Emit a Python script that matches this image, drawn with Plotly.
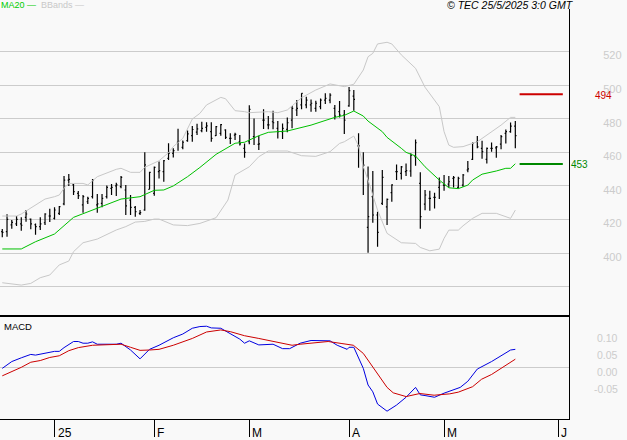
import plotly.graph_objects as go
from plotly.subplots import make_subplots

FONT = "Liberation Sans"
GRID = "#cccccc"
BG = "#f9f9f9"

# daily bars
open_ = [412.8, 412.8, 416.8, 417.4, 417.4, 421.3, 420.3, 416.9, 415.8, 418.1,
         422.1, 420.7, 423.7, 429.3, 443.5, 440.6, 435.6, 428.7, 430.6, 433.6,
         428.7, 429.6, 433.6, 438.6, 440.0, 439.6, 437.6, 431.6, 427.3, 423.7,
         425.7, 438.0, 435.6, 448.5, 448.5, 456.4, 459.4, 466.0, 463.0, 467.0,
         470.0, 472.0, 472.9, 474.9, 472.3, 469.9, 471.3, 473.3, 468.3, 470.3,
         466.3, 462.4, 466.3, 469.3, 464.7, 479.2, 476.3, 478.2, 474.3, 472.3,
         473.7, 479.2, 485.2, 488.2, 488.2, 488.2, 486.2, 487.2, 491.1, 491.1,
         486.2, 484.2, 482.2, 487.6, 493.5, 463.8, 453.4, 415.3, 433.6, 422.7,
         429.6, 427.6, 436.0, 448.5, 447.5, 448.5, 448.9, 457.4, 441.5, 429.2,
         432.6, 433.2, 439.1, 440.5, 441.1, 444.5, 439.1, 440.5, 449.5, 455.8,
         466.3, 462.4, 455.8, 462.4, 462.7, 464.9, 471.3, 472.3, 475.6]
high = [414.4, 423.1, 419.7, 422.1, 421.3, 425.7, 420.7, 417.7, 421.3, 423.7,
        426.5, 427.3, 428.1, 445.9, 447.1, 441.2, 437.0, 434.6, 433.6, 444.1,
        435.2, 435.2, 440.2, 441.2, 441.9, 445.9, 440.6, 434.6, 428.1, 425.7,
        460.0, 448.5, 451.5, 454.5, 455.4, 465.4, 462.4, 474.0, 467.0, 473.0,
        475.6, 477.0, 478.2, 477.9, 477.9, 475.7, 476.9, 473.7, 471.3, 471.7,
        470.3, 465.3, 488.0, 480.2, 469.9, 485.6, 481.6, 484.8, 478.6, 477.2,
        480.8, 487.6, 491.1, 495.1, 493.1, 491.5, 490.7, 492.1, 495.1, 495.1,
        488.2, 490.5, 485.2, 498.9, 497.1, 471.3, 460.0, 451.5, 448.9, 424.7,
        449.5, 432.6, 441.0, 452.8, 451.8, 453.4, 459.4, 467.7, 448.1, 437.6,
        437.2, 436.0, 445.1, 446.5, 445.9, 445.9, 445.5, 447.1, 454.8, 465.9,
        469.7, 466.9, 462.9, 465.9, 463.7, 470.3, 473.6, 477.8, 478.6]
low = [409.4, 409.8, 414.6, 416.2, 413.4, 418.7, 414.2, 411.0, 413.8, 416.8,
       418.5, 420.1, 422.7, 428.5, 440.0, 434.6, 432.2, 424.1, 429.3, 432.6,
       424.1, 427.3, 432.6, 434.6, 434.0, 438.6, 422.7, 422.7, 421.7, 422.7,
       425.3, 438.0, 434.2, 444.5, 442.5, 455.4, 457.0, 461.0, 461.8, 466.3,
       466.3, 470.3, 471.9, 472.3, 466.3, 469.7, 469.9, 467.9, 465.0, 467.3,
       464.0, 456.8, 464.8, 464.4, 461.4, 473.9, 473.7, 473.7, 468.3, 467.9,
       471.9, 474.3, 481.6, 485.6, 486.2, 484.2, 484.2, 485.6, 488.8, 489.2,
       479.6, 480.8, 470.9, 487.2, 484.8, 450.9, 434.6, 400.3, 418.1, 403.8,
       428.6, 416.7, 430.6, 443.5, 443.9, 445.9, 445.5, 452.0, 414.5, 425.6,
       425.3, 426.6, 432.2, 437.2, 439.1, 439.1, 438.5, 439.5, 448.1, 455.4,
       462.4, 456.2, 453.4, 460.4, 456.8, 461.8, 465.3, 471.7, 462.4]
close = [412.4, 420.1, 418.3, 420.1, 416.6, 423.3, 417.4, 415.8, 417.4, 423.3,
         422.1, 425.7, 427.7, 443.5, 443.9, 436.6, 434.2, 433.6, 432.6, 443.5,
         429.3, 432.6, 439.2, 439.2, 440.6, 445.1, 428.1, 427.3, 424.7, 424.1,
         452.5, 448.1, 451.1, 449.1, 455.0, 459.4, 461.0, 466.5, 466.0, 471.0,
         473.6, 474.0, 474.3, 475.7, 468.3, 475.3, 476.5, 468.9, 468.3, 470.7,
         465.0, 460.0, 485.6, 468.9, 465.0, 479.2, 476.3, 477.6, 472.3, 474.3,
         477.6, 486.2, 486.2, 495.1, 491.1, 489.2, 489.2, 491.1, 492.1, 494.1,
         481.6, 482.2, 479.2, 496.7, 491.5, 463.8, 452.4, 421.7, 422.7, 412.4,
         445.1, 432.0, 440.6, 448.5, 451.4, 449.1, 458.4, 465.7, 421.7, 434.6,
         432.6, 433.2, 441.9, 440.5, 442.5, 444.9, 444.5, 446.5, 450.1, 465.3,
         463.3, 460.4, 462.4, 462.4, 463.3, 469.3, 472.3, 475.6, 469.9]
days = list(range(len(close)))

ma20_days = [0, 4, 7, 11, 15, 20, 25, 29, 32, 34, 36, 39, 41.6, 45, 49, 51, 54, 56, 60,
             65, 70, 72, 74, 76, 77, 80, 81, 84, 85, 87, 89, 92, 94, 96, 98, 99, 101,
             104, 106, 107, 108]
ma20 = [402.5, 402.5, 406.8, 411.4, 421.3, 426.7, 432.2, 433.6, 437.4, 437.6, 440.0,
        445.5, 451.0, 458.8, 465.4, 466.0, 469.9, 471.9, 472.7, 476.2, 480.8, 482.0,
        484.6, 481.6, 478.6, 472.3, 468.9, 462.4, 460.0, 457.8, 451.4, 443.5, 438.9,
        438.4, 440.5, 443.5, 447.0, 448.9, 450.5, 450.5, 453.2]

upper_days = [0, 3, 4, 7, 9, 11, 12, 13, 14, 17, 18, 20, 24, 25, 27, 29, 30, 33, 35, 36,
              38, 40, 41.6, 43, 46, 47, 49, 51, 52, 56, 58, 60, 62, 63, 66, 69, 72, 74,
              76, 77, 78, 79, 81, 82, 84, 87, 89, 92, 93, 94, 95, 97, 100, 105, 107, 108]
bb_upper = [422.1, 422.1, 423.3, 428.7, 432.2, 433.6, 434.6, 438.6, 441.5, 441.5, 440.6,
            445.5, 449.9, 450.5, 448.1, 448.1, 451.1, 455.0, 459.8, 463.4, 468.3, 479.8,
            483.2, 488.2, 492.7, 491.9, 484.8, 484.2, 483.6, 484.2, 483.6, 485.2, 490.1,
            492.5, 497.1, 500.7, 499.1, 500.5, 509.0, 516.9, 518.9, 524.5, 525.5, 524.5,
            518.0, 510.0, 498.7, 487.2, 472.3, 464.3, 463.0, 463.4, 466.3, 476.2, 480.8,
            480.8]

lower_days = [0, 4, 6, 8, 10, 12, 14, 15, 17, 20, 24, 26, 28, 30, 32, 33, 36, 39, 41.6,
              45, 47.5, 49, 52, 54, 56, 60, 63, 66, 69, 71, 72, 74, 75, 76, 77, 79, 81,
              83, 84, 87, 88, 90, 92, 93, 94, 96, 97, 99, 101, 104, 107, 108]
bb_lower = [382.4, 381.0, 382.0, 385.4, 387.0, 393.0, 395.3, 400.9, 406.2, 408.4, 413.8,
            415.8, 418.5, 418.9, 420.3, 420.3, 416.8, 416.4, 417.7, 421.1, 431.6, 446.5,
            451.4, 457.4, 460.8, 460.8, 458.0, 457.6, 460.4, 465.3, 466.3, 469.7, 463.8,
            451.4, 443.5, 425.6, 411.8, 407.8, 406.2, 405.8, 403.4, 401.4, 402.4, 408.8,
            413.7, 413.7, 416.3, 420.7, 423.7, 423.7, 420.7, 425.6]

target_days = [108.9, 118.0]
target_high = 494.6
target_low = 453.0

macd_days = [0, 2, 4, 6, 7, 9, 11, 12, 13, 15, 16, 17, 18, 19, 20, 24, 25, 27, 29, 31, 33,
             36, 38, 40, 41.6, 43, 44, 46, 48, 50, 51, 52, 54, 57, 59, 60.5, 62.7, 65, 69,
             70.5, 72.6, 73, 74, 75, 76, 77, 78, 79, 81, 83, 85, 87, 88, 89, 91, 93, 95,
             96.4, 98, 99, 100, 103, 105, 107, 108]
macd = [-0.003, 0.017, 0.028, 0.038, 0.036, 0.041, 0.047, 0.047, 0.058, 0.076, 0.076,
        0.071, 0.071, 0.075, 0.068, 0.068, 0.071, 0.051, 0.025, 0.053, 0.065, 0.087, 0.098,
        0.115, 0.120, 0.121, 0.116, 0.115, 0.098, 0.083, 0.071, 0.078, 0.066, 0.068, 0.055,
        0.055, 0.071, 0.079, 0.078, 0.065, 0.053, 0.059, 0.059, 0.026, -0.003, -0.052,
        -0.072, -0.108, -0.129, -0.111, -0.088, -0.059, -0.081, -0.083, -0.088, -0.076,
        -0.065, -0.059, -0.041, -0.023, -0.005, 0.017, 0.034, 0.051, 0.053]

signal_days = [0, 2, 4, 6, 8, 10, 12, 14, 16, 19, 22, 25, 27, 29, 31, 33, 36, 38, 40, 43,
               46, 48, 51, 54, 57, 59, 61, 62.7, 64.6, 68.6, 71.5, 73.9, 76, 78, 80, 81,
               82.3, 85, 87.9, 90.9, 94.2, 96, 99, 100.9, 103, 105, 108]
signal = [-0.025, -0.013, 0.0, 0.015, 0.020, 0.029, 0.034, 0.049, 0.058, 0.065, 0.066,
          0.068, 0.059, 0.050, 0.051, 0.053, 0.065, 0.074, 0.085, 0.104, 0.110, 0.105,
          0.093, 0.085, 0.076, 0.071, 0.065, 0.068, 0.071, 0.076, 0.070, 0.065, 0.041,
          0.002, -0.037, -0.059, -0.075, -0.086, -0.077, -0.082, -0.078, -0.073, -0.057,
          -0.035, -0.021, -0.003, 0.024]

price_ticks = [380, 400, 420, 440, 460, 480, 500, 520]
price_labels = ["", "400", "420", "440", "460", "480", "500", "520"]
macd_ticks = [-0.05, 0.0, 0.05, 0.10]
macd_labels = ["-0.05", "0.00", "0.05", "0.10"]
month_days = [11, 32, 52, 73, 93, 117]
month_labels = ["25", "F", "M", "A", "M", "J"]

fig = make_subplots(rows=2, cols=1, shared_xaxes=True, vertical_spacing=0,
                    row_heights=[306, 104])

fig.add_trace(go.Scatter(x=upper_days, y=bb_upper, mode="lines",
                         line=dict(color="#c8c8c8", width=1)), row=1, col=1)
fig.add_trace(go.Scatter(x=lower_days, y=bb_lower, mode="lines",
                         line=dict(color="#c8c8c8", width=1)), row=1, col=1)
fig.add_trace(go.Scatter(x=ma20_days, y=ma20, mode="lines",
                         line=dict(color="#00c000", width=1)), row=1, col=1)
fig.add_trace(go.Ohlc(x=days, open=open_, high=high, low=low, close=close, tickwidth=0.25,
                      increasing_line=dict(color="black", width=1.2),
                      decreasing_line=dict(color="black", width=1.2)), row=1, col=1)
fig.add_trace(go.Scatter(x=target_days, y=[target_high, target_high], mode="lines",
                         line=dict(color="#cc0000", width=2)), row=1, col=1)
fig.add_trace(go.Scatter(x=target_days, y=[target_low, target_low], mode="lines",
                         line=dict(color="#008800", width=2)), row=1, col=1)

fig.add_trace(go.Scatter(x=macd_days, y=macd, mode="lines",
                         line=dict(color="#0000e0", width=1)), row=2, col=1)
fig.add_trace(go.Scatter(x=signal_days, y=signal, mode="lines",
                         line=dict(color="#cc0000", width=1)), row=2, col=1)

fig.update_layout(width=627, height=440, showlegend=False, paper_bgcolor=BG, plot_bgcolor=BG,
                  margin=dict(l=0, r=58, t=9, b=21, autoexpand=False),
                  font=dict(family=FONT, size=11))

fig.update_xaxes(range=[-0.48, 119.3], showgrid=False, zeroline=False)
fig.update_xaxes(rangeslider_visible=False, showline=True, linecolor="black", linewidth=2,
                 showticklabels=False, ticks="", row=1, col=1)
fig.update_xaxes(showline=True, linecolor="black", linewidth=1, ticks="outside", ticklen=17,
                 tickcolor="black", tickvals=month_days, showticklabels=False, row=2, col=1)

fig.update_yaxes(side="right", showline=True, linecolor="black", linewidth=1, ticks="",
                 automargin=False)
fig.update_yaxes(range=[363.2, 545.3], tickvals=price_ticks, ticktext=price_labels,
                 tickfont=dict(color=GRID, size=11, family=FONT), ticklabelstandoff=31,
                 ticklabelshift=4,
                 showgrid=True, gridcolor=GRID, gridwidth=1, zeroline=False, row=1, col=1)
fig.update_yaxes(range=[-0.152, 0.154], tickvals=macd_ticks, showticklabels=False,
                 showgrid=False, zeroline=True, zerolinecolor=GRID, zerolinewidth=1, row=2, col=1)

fig.add_annotation(text="MA20 —", xref="paper", yref="paper", x=0, y=1, xanchor="left",
                   yanchor="middle", xshift=0, yshift=4.5, showarrow=False, borderpad=0,
                   font=dict(color="#00cc00", size=9))
fig.add_annotation(text="BBands —", xref="paper", yref="paper", x=0, y=1, xanchor="left",
                   yanchor="middle", xshift=40, yshift=4.5, showarrow=False, borderpad=0,
                   font=dict(color="#c8c8c8", size=9))
fig.add_annotation(text="© TEC 25/5/2025 3:0 GMT", xref="paper", yref="paper", x=1, y=1,
                   xanchor="right", yanchor="middle", xshift=6, yshift=4, showarrow=False,
                   borderpad=0, font=dict(color="black", size=10.5, style="italic"))
fig.add_annotation(text="MACD", xref="paper", yref="y2 domain", x=0, y=1, xanchor="left",
                   yanchor="top", xshift=2, yshift=-4, showarrow=False,
                   font=dict(color="black", size=9.5))
fig.add_annotation(text="494", xref="paper", yref="y", x=1, y=target_high, xanchor="left",
                   yanchor="middle", xshift=24, yshift=-1, showarrow=False,
                   font=dict(color="#cc0000", size=10))
fig.add_annotation(text="453", xref="paper", yref="y", x=1, y=target_low, xanchor="left",
                   yanchor="middle", xshift=0, showarrow=False,
                   font=dict(color="#008800", size=10))
for value, label in zip(macd_ticks, macd_labels):
    fig.add_annotation(text=label, xref="paper", yref="y2", x=1, y=value, xanchor="right",
                       yanchor="middle", xshift=51, yshift=-4.5, showarrow=False,
                       font=dict(color=GRID, size=10.5))
for day, label in zip(month_days, month_labels):
    fig.add_annotation(text=label, xref="x2", yref="y2 domain", x=day, y=0, xanchor="left",
                       yanchor="middle", xshift=2, yshift=-14, showarrow=False, borderpad=0,
                       font=dict(color="black", size=12))

# the browser's default body margin would push the chart off the window
fig.write_html("out.html", config=dict(displayModeBar=False),
               post_script="document.body.style.margin = '0';")
